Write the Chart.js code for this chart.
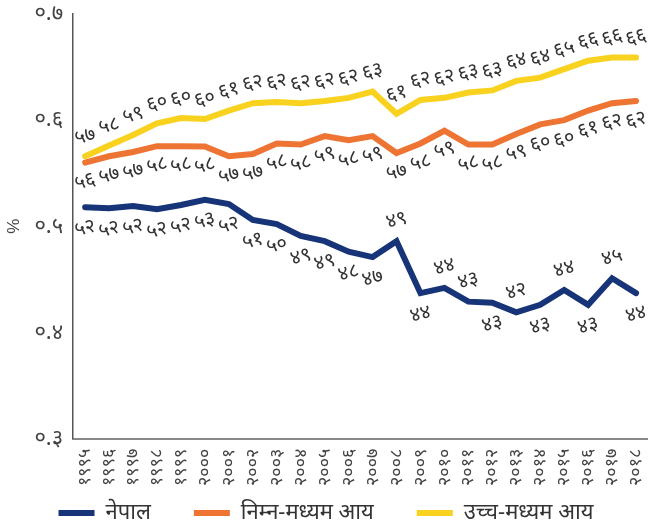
<!DOCTYPE html>
<html>
<head>
<meta charset="utf-8">
<script src="https://cdn.jsdelivr.net/npm/chart.js@4"></script>
<style>
  html, body { margin: 0; padding: 0; background: #fff; }
  #wrap { width: 648px; height: 525px; }
</style>
</head>
<body>
<div id="wrap"><canvas id="chart"></canvas></div>
<script>
// years and values
var years = [1995, 1996, 1997, 1998, 1999, 2000, 2001, 2002, 2003, 2004, 2005, 2006,
             2007, 2008, 2009, 2010, 2011, 2012, 2013, 2014, 2015, 2016, 2017, 2018];
var nepal = [0.518, 0.517, 0.519, 0.516, 0.520, 0.525, 0.521, 0.506, 0.502, 0.491, 0.486, 0.476,
             0.471, 0.486, 0.437, 0.442, 0.429, 0.428, 0.419, 0.426, 0.440, 0.426, 0.451, 0.437];
var lowerMiddle = [0.560, 0.566, 0.570, 0.5755, 0.5755, 0.5752, 0.566, 0.568, 0.578, 0.577, 0.585, 0.581,
                   0.585, 0.569, 0.578, 0.590, 0.577, 0.577, 0.587, 0.596, 0.600, 0.609, 0.616, 0.618];
var upperMiddle = [0.566, 0.576, 0.586, 0.597, 0.602, 0.601, 0.609, 0.616, 0.617, 0.616, 0.618, 0.621,
                   0.627, 0.606, 0.619, 0.621, 0.626, 0.628, 0.637, 0.640, 0.648, 0.656, 0.659, 0.659];
var seriesNames = ["नेपाल", "निम्न-मध्यम आय", "उच्च-मध्यम आय"];
var yTicks = [0.3, 0.4, 0.5, 0.6, 0.7];

var digits = ["०", "१", "२", "३", "४", "५", "६", "७", "८", "९"];
function toNepali(s) {
  return String(s).replace(/[0-9]/g, function (d) { return digits[+d]; });
}

// nepal labels that sit above the line (rest go below)
var nepalAbove = [13, 15, 16, 18, 20, 22];

var valueLabels = {
  id: "valueLabels",
  afterDatasetsDraw: function (chart) {
    var ctx = chart.ctx;
    ctx.save();
    ctx.font = "20px 'Noto Sans', sans-serif";
    ctx.fillStyle = "#333";
    ctx.textAlign = "center";
    ctx.textBaseline = "middle";
    chart.data.datasets.forEach(function (ds, di) {
      var meta = chart.getDatasetMeta(di);
      meta.data.forEach(function (pt, i) {
        var dy;
        if (di === 2) dy = -20;
        else if (di === 1) dy = 19;
        else dy = nepalAbove.indexOf(i) >= 0 ? -21 : 21;
        var txt = toNepali(Math.round(ds.data[i] * 100));
        ctx.save();
        ctx.translate(pt.x, pt.y + dy);
        ctx.rotate(-0.26);
        ctx.fillText(txt, 0, 0);
        ctx.restore();
      });
    });
    ctx.restore();
  }
};

// big horizontal gaps between legend items, but keep the legend box short:
// move the box up so its items sit at the very bottom of the canvas
var legendShift = {
  id: "legendShift",
  afterLayout: function (chart) {
    var lg = chart.legend;
    var lab = lg.options.labels;
    var top = lg.bottom - lab.font.size - lab.padding - 1;
    lg.height = lg.bottom - top;
    lg.top = top;
  }
};

var ctx = document.getElementById("chart").getContext("2d");
var chart = new Chart(ctx, {
  type: "line",
  data: {
    labels: years.map(toNepali),
    datasets: [
      {
        label: seriesNames[0],
        data: nepal,
        borderColor: "#163477",
        backgroundColor: "#163477",
        borderWidth: 6,
        borderCapStyle: "round",
        pointRadius: 0,
        tension: 0,
      },
      {
        label: seriesNames[1],
        data: lowerMiddle,
        borderColor: "#ee7433",
        backgroundColor: "#ee7433",
        borderWidth: 6,
        borderCapStyle: "round",
        pointRadius: 0,
        tension: 0,
      },
      {
        label: seriesNames[2],
        data: upperMiddle,
        borderColor: "#f8d21f",
        backgroundColor: "#f8d21f",
        borderWidth: 6,
        borderCapStyle: "round",
        pointRadius: 0,
        tension: 0,
      },
    ],
  },
  options: {
    responsive: true,
    maintainAspectRatio: false,
    animation: false,
    layout: { padding: { top: 14, right: 0, left: 4, bottom: 0 } },
    plugins: {
      legend: {
        position: "bottom",
        maxHeight: 29,
        labels: {
          usePointStyle: true,
          pointStyle: "line",
          pointStyleWidth: 36,
          padding: 43,
          color: "#333",
          font: { size: 22, family: "'Noto Sans', sans-serif" },
        },
      },
      tooltip: { enabled: false },
    },
    scales: {
      x: {
        offset: true,
        grid: { display: false, drawTicks: false },
        border: { display: true, color: "#888", width: 2 },
        afterFit: function (scale) {
          scale.paddingLeft = 0;
          scale.paddingRight = 0;
        },
        ticks: {
          autoSkip: false,
          minRotation: 90,
          maxRotation: 90,
          padding: 10,
          color: "#444",
          font: { size: 18, family: "'Noto Sans', sans-serif" },
        },
      },
      y: {
        min: 0.3,
        max: 0.7,
        afterBuildTicks: function (axis) {
          axis.ticks = yTicks.map(function (v) { return { value: v }; });
        },
        afterFit: function (scale) {
          scale.paddingTop = 0;
          scale.paddingBottom = 0;
        },
        grid: { display: false, drawTicks: false },
        border: { display: true, color: "#555", width: 1.5 },
        title: {
          display: true,
          text: "%",
          color: "#444",
          font: { size: 17 },
          padding: 0,
        },
        ticks: {
          padding: 10,
          color: "#444",
          font: { size: 22, family: "'Noto Sans', sans-serif" },
          callback: function (v) { return toNepali(Number(v).toFixed(1)); },
        },
      },
    },
  },
  plugins: [valueLabels, legendShift],
});
</script>
</body>
</html>
